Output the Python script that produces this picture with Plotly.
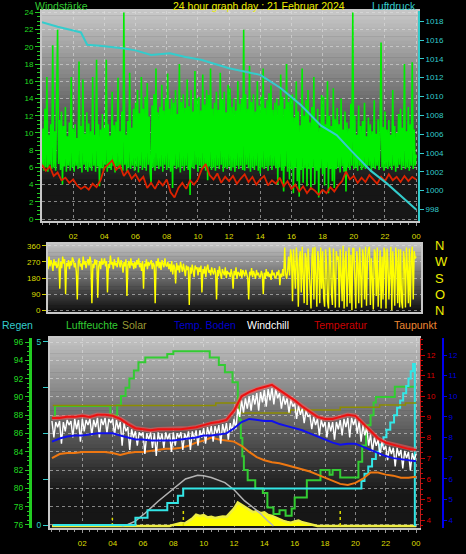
import plotly.graph_objects as go

W, H = 466, 554
FONT = "Liberation Sans, Arial, sans-serif"

# ---------------- data ----------------
hour_ticks = [2, 4, 6, 8, 10, 12, 14, 16, 18, 20, 22, 24]
hour_labels = ["02", "04", "06", "08", "10", "12", "14", "16", "18", "20", "22", "00"]

# Windstärke (gusts), one row per hour, 16 samples per hour
gust_step = 0.0625
gust = [
    6.2, 10.5, 5.6, 12.8, 6.0, 16.5, 5.5, 9.8, 6.3, 11.0, 5.8, 20.2, 6.0, 10.2, 5.6, 12.5,
    22.0, 6.4, 11.5, 5.7, 12.5, 4.0, 10.8, 6.1, 13.0, 5.5, 9.6, 6.2, 11.2, 5.6, 16.5, 6.0,
    10.5, 5.5, 11.0, 6.2, 9.4, 5.8, 18.3, 6.0, 10.8, 5.4, 16.2, 6.3, 9.9, 5.7, 12.4, 5.5,
    11.1, 6.0, 10.2, 5.6, 16.5, 6.2, 9.8, 5.5, 18.5, 6.1, 11.0, 3.8, 10.4, 5.9, 12.2, 5.6,
    10.6, 6.3, 18.5, 5.5, 11.0, 6.0, 9.7, 5.7, 14.8, 6.2, 10.9, 5.4, 11.3, 6.1, 16.4, 5.8,
    10.2, 6.2, 12.5, 5.6, 24.0, 6.3, 9.8, 5.5, 11.4, 6.0, 17.0, 5.8, 10.6, 6.2, 12.8, 5.6,
    13.5, 6.1, 15.0, 5.4, 12.3, 6.2, 16.5, 5.7, 12.8, 6.0, 14.2, 5.6, 15.8, 6.3, 11.9, 5.5,
    4.2, 13.2, 6.0, 14.5, 5.6, 17.5, 6.2, 12.4, 5.8, 13.0, 6.1, 15.6, 5.5, 12.6, 6.3, 14.0,
    5.7, 16.9, 6.0, 12.8, 5.5, 14.0, 3.6, 13.5, 6.2, 15.0, 5.8, 12.2, 6.0, 18.0, 5.4, 13.6,
    6.1, 14.5, 5.6, 12.9, 6.2, 16.2, 5.7, 13.1, 2.8, 15.0, 6.0, 12.5, 5.8, 17.2, 6.3, 14.0,
    5.5, 14.2, 6.2, 12.6, 5.8, 16.8, 6.0, 13.3, 5.6, 15.0, 4.5, 14.4, 6.1, 17.5, 5.7, 12.8,
    6.0, 13.5, 5.6, 14.8, 6.2, 12.7, 5.8, 17.0, 6.3, 13.9, 5.5, 14.8, 6.0, 12.4, 5.8, 15.6,
    6.1, 15.2, 5.6, 13.0, 6.0, 14.0, 5.5, 12.6, 6.2, 16.0, 5.8, 13.4, 6.2, 14.0, 5.7, 22.0,
    5.6, 14.5, 6.3, 12.8, 5.9, 17.8, 5.5, 13.6, 6.0, 14.5, 5.7, 12.5, 6.2, 16.0, 5.6, 13.2,
    5.3, 14.2, 6.0, 17.5, 5.8, 12.9, 6.1, 13.8, 5.6, 14.6, 6.2, 15.5, 5.7, 12.7, 6.2, 13.5,
    5.9, 14.0, 4.0, 13.2, 6.0, 16.8, 5.6, 14.2, 3.2, 12.8, 6.1, 18.0, 5.5, 13.6, 4.6, 14.4,
    5.8, 14.5, 3.0, 11.8, 6.0, 16.0, 4.4, 12.5, 2.6, 10.9, 5.7, 17.5, 4.2, 12.0, 5.9, 13.8,
    3.8, 15.0, 5.8, 11.2, 3.4, 13.0, 6.0, 16.5, 4.0, 11.5, 5.6, 12.8, 2.5, 10.6, 5.9, 14.4,
    5.2, 14.2, 3.9, 11.0, 6.0, 16.0, 3.0, 12.0, 5.8, 10.8, 4.4, 15.2, 3.6, 11.6, 5.8, 12.9,
    6.0, 11.0, 5.4, 14.0, 6.1, 10.4, 5.5, 12.5, 3.2, 11.2, 6.0, 10.5, 5.7, 13.4, 6.2, 24.0,
    5.8, 12.0, 6.0, 9.8, 5.6, 13.2, 6.2, 10.8, 5.7, 11.4, 6.0, 13.5, 5.8, 9.6, 6.2, 11.8,
    6.2, 11.0, 5.5, 10.2, 6.0, 13.8, 5.8, 9.9, 6.2, 11.6, 5.7, 9.5, 20.5, 6.0, 10.7, 5.6,
    12.5, 6.0, 10.4, 5.8, 11.5, 6.1, 9.8, 5.7, 15.0, 6.2, 10.8, 5.5, 10.0, 6.0, 12.2, 6.3,
    12.8, 5.7, 10.6, 6.1, 18.0, 5.8, 10.2, 6.0, 13.0, 5.6, 11.0, 6.2, 18.2, 5.8, 10.4, 6.2,
    7.5,
]

# mean wind, every 15 minutes
avg_step = 0.25
wind_avg = [
    6.3, 5.6, 6.1, 5.0, 5.4, 4.5, 4.8, 4.2, 4.6, 3.9, 3.5, 3.8,
    3.4, 4.1, 3.7, 4.5, 5.9, 6.4, 6.8, 5.7, 6.2, 5.0, 5.6, 4.7,
    5.2, 4.4, 4.9, 3.6, 4.2, 3.5, 4.4, 3.9, 4.6, 3.1, 2.5, 3.6,
    4.2, 3.5, 4.5, 4.0, 4.6, 5.8, 6.4, 5.1, 4.6, 5.3, 4.2, 4.9,
    4.4, 5.0, 4.1, 4.7, 5.2, 4.3, 4.9, 4.0, 4.6, 5.0, 3.9, 4.5,
    4.1, 4.8, 3.8, 4.4, 3.5, 4.0, 3.2, 3.8, 3.0, 3.6, 3.3, 2.8,
    3.4, 3.0, 3.7, 3.2, 3.9, 4.4, 5.5, 4.6, 5.0, 4.2, 4.8, 4.3,
    5.1, 4.6, 4.1, 4.9, 4.4, 5.2, 4.5, 4.9, 4.3, 5.0, 4.4, 4.9,
    4.6,
]

# Luftdruck (hPa)
pressure_t = [0.0, 1.0, 2.0, 2.5, 2.9, 3.7, 5.3, 6.0, 7.0, 8.2, 9.2, 10.2,
              12.0, 14.0, 15.3, 16.6, 17.9, 18.9, 19.8, 21.1, 22.1, 23.0, 24.0]
pressure = [1017.9, 1017.4, 1017.0, 1016.8, 1015.5, 1015.4, 1015.1, 1014.9,
            1014.4, 1014.6, 1014.2, 1013.9, 1013.0, 1012.3, 1010.9, 1009.1,
            1006.9, 1005.9, 1004.3, 1002.1, 1000.8, 999.5, 998.0]

# wind direction (degrees), one row per hour, 16 samples per hour
dir_step = 0.0625
direction = [
    240, 275, 225, 290, 250, 265, 230, 300, 245, 280, 260, 220, 285, 250, 270, 235,
    255, 290, 120, 270, 235, 300, 260, 285, 90, 265, 245, 280, 230, 275, 250, 295,
    280, 240, 265, 215, 60, 270, 290, 245, 260, 225, 300, 255, 275, 235, 265, 285,
    250, 300, 270, 40, 260, 235, 285, 255, 280, 70, 245, 275, 230, 290, 255, 265,
    290, 245, 275, 100, 260, 235, 305, 255, 270, 230, 285, 250, 265, 240, 295, 260,
    240, 280, 255, 210, 270, 245, 285, 80, 255, 275, 235, 290, 250, 265, 230, 270,
    235, 280, 255, 290, 240, 265, 220, 275, 120, 260, 245, 285, 230, 270, 250, 265,
    280, 230, 265, 250, 40, 275, 245, 290, 235, 270, 225, 280, 255, 240, 290, 250,
    245, 270, 230, 260, 215, 275, 200, 255, 240, 150, 265, 225, 250, 210, 270, 235,
    215, 260, 230, 190, 250, 225, 245, 30, 240, 205, 255, 220, 185, 250, 230, 240,
    195, 240, 215, 250, 100, 230, 205, 245, 185, 235, 255, 210, 225, 195, 240, 215,
    200, 235, 210, 60, 225, 190, 245, 205, 175, 230, 215, 195, 240, 180, 220, 205,
    210, 185, 230, 200, 120, 220, 195, 240, 175, 215, 205, 190, 230, 180, 225, 200,
    190, 225, 205, 180, 60, 215, 195, 235, 185, 220, 200, 175, 225, 195, 210, 185,
    185, 220, 200, 90, 210, 175, 230, 190, 215, 185, 205, 170, 225, 195, 210, 180,
    180, 215, 195, 225, 140, 205, 185, 230, 190, 350, 205, 175, 220, 300, 195, 340,
    300, 50, 340, 200, 120, 350, 260, 20, 280, 330, 100, 355, 230, 40, 320, 290,
    30, 345, 240, 80, 10, 300, 350, 60, 355, 200, 20, 330, 270, 40, 350, 120,
    330, 70, 20, 340, 260, 50, 10, 350, 300, 90, 30, 345, 220, 15, 330, 280,
    300, 15, 340, 230, 50, 360, 10, 280, 330, 20, 150, 350, 40, 310, 0, 345,
    345, 120, 10, 330, 260, 40, 350, 200, 15, 340, 300, 60, 355, 25, 290, 340,
    355, 30, 290, 180, 5, 340, 320, 80, 350, 20, 250, 335, 10, 300, 60, 350,
    320, 10, 345, 270, 60, 300, 355, 0, 330, 200, 25, 350, 290, 40, 340, 15,
    340, 50, 10, 330, 280, 15, 350, 240, 40, 345, 20, 300, 355, 60, 330, 290,
    300,
]

# Luftfeuchte (%), step line
hum_t = [0.05, 0.2, 3.85, 4.3, 4.55, 4.85, 5.1, 5.4, 5.7, 6.15,
         7.6, 8.0, 10.4, 11.0, 11.4, 11.9,
         12.25, 12.35, 12.45, 12.55, 12.65, 12.9,
         13.4, 13.9, 14.2, 14.6, 15.0, 15.4, 15.8, 16.0,
         16.8, 17.7, 18.3, 18.5, 19.0,
         20.2, 20.45, 20.7, 21.0, 21.2, 21.35,
         22.6, 24.0]
hum = [87.8, 89.0, 88.0, 89.1, 90.1, 91.0, 92.0, 92.9, 93.8, 94.3,
       94.7, 95.0, 94.3, 93.5, 92.7, 91.6,
       89.5, 87.5, 85.5, 83.5, 82.0, 80.9,
       80.0, 79.5, 77.9, 77.2, 77.6, 77.0, 77.8, 79.0,
       80.9, 82.0, 81.5, 82.0, 81.2,
       82.9, 84.7, 86.9, 88.0, 89.4, 90.0,
       91.1, 91.1]

# Regen (mm), step line
rain_t = [0.05, 5.5, 6.3, 7.6, 8.3, 8.65, 20.4, 20.6, 20.85, 21.1, 21.35, 21.6,
          21.85, 22.05, 22.3, 22.55, 22.75, 22.95, 23.15, 23.35, 23.5, 23.65,
          23.8, 23.92, 24.0]
rain = [0.0, 0.2, 0.4, 0.6, 0.8, 1.0, 1.2, 1.4, 1.6, 1.8, 2.0, 2.2,
        2.4, 2.6, 2.8, 3.0, 3.2, 3.4, 3.6, 3.8, 4.0, 4.2,
        4.4, 0.0, 0.0]

# temperatures (°C), every 30 minutes
temp_step = 0.5
temperature = [8.95, 8.95, 9.0, 9.0, 9.05, 9.0, 9.1, 9.1, 9.05, 8.9,
               8.65, 8.45, 8.4, 8.35, 8.4, 8.4, 8.4, 8.4, 8.45, 8.5,
               8.6, 8.7, 8.75, 8.85, 9.3, 10.0, 10.2, 10.35, 10.45, 10.55,
               10.3, 10.05, 9.8, 9.5, 9.25, 9.0, 8.9, 8.9, 9.0, 9.1,
               9.05, 8.7, 8.3, 7.95, 7.75, 7.65, 7.55, 7.45, 7.4]
soil_temp = [7.8, 7.95, 8.05, 8.1, 8.1, 8.15, 8.2, 8.2, 8.2, 8.1,
             8.0, 7.9, 7.9, 7.85, 7.85, 7.85, 7.85, 7.9, 7.95, 8.0,
             8.1, 8.1, 8.15, 8.2, 8.45, 8.75, 8.9, 8.85, 8.8, 8.8,
             8.65, 8.55, 8.45, 8.35, 8.2, 8.05, 7.9, 7.75, 7.65, 7.7,
             7.7, 7.55, 7.4, 7.25, 7.1, 7.0, 6.95, 6.9, 6.85]
dewpoint = [7.0, 7.2, 7.25, 7.25, 7.3, 7.3, 7.3, 7.3, 7.25, 7.15,
            7.25, 7.3, 7.3, 7.35, 7.4, 7.45, 7.45, 7.5, 7.6, 7.75,
            7.85, 8.0, 7.9, 7.85, 7.8, 7.6, 7.3, 7.05, 6.9, 6.8,
            6.75, 6.65, 6.55, 6.45, 6.35, 6.2, 6.05, 5.9, 5.75, 5.7,
            5.8, 6.0, 6.3, 6.3, 6.2, 6.15, 6.05, 6.05, 6.1]

# Windchill (°C), one row per hour, 8 samples per hour
chill_step = 0.125
windchill = [
    8.8, 8.0, 8.75, 8.5, 8.8, 7.7, 8.75, 8.3,
    8.85, 8.6, 8.8, 8.0, 8.9, 8.4, 8.85, 7.8,
    8.9, 8.3, 8.85, 8.6, 8.9, 8.1, 8.85, 8.5,
    8.95, 8.0, 8.9, 8.6, 8.95, 8.2, 8.9, 8.7,
    8.9, 8.1, 8.85, 8.4, 8.75, 7.6, 8.7, 8.3,
    8.5, 7.4, 8.4, 8.0, 8.3, 7.6, 8.25, 8.1,
    8.25, 7.2, 8.2, 7.9, 8.25, 7.5, 8.2, 7.1,
    8.25, 7.8, 8.2, 7.5, 8.25, 7.9, 8.2, 7.3,
    8.25, 7.6, 8.2, 8.0, 8.25, 7.4, 8.2, 7.9,
    8.3, 7.4, 8.3, 7.9, 8.35, 7.6, 8.35, 8.0,
    8.45, 7.7, 8.5, 8.1, 8.55, 7.8, 8.55, 8.2,
    8.6, 7.7, 8.65, 8.2, 8.7, 7.9, 8.7, 8.3,
    8.9, 8.4, 9.4, 9.0, 9.8, 9.2, 9.9, 9.4,
    10.0, 9.3, 10.05, 9.6, 10.15, 9.3, 10.2, 9.7,
    10.3, 9.5, 10.35, 9.8, 10.4, 9.6, 10.35, 9.9,
    10.15, 9.4, 10.0, 9.6, 9.9, 9.2, 9.85, 9.5,
    9.65, 8.9, 9.55, 9.1, 9.4, 8.7, 9.3, 9.0,
    9.1, 8.4, 9.0, 8.6, 8.9, 8.1, 8.85, 8.5,
    8.75, 8.0, 8.75, 8.3, 8.75, 7.9, 8.75, 8.4,
    8.85, 8.1, 8.9, 8.5, 8.95, 8.0, 8.95, 8.6,
    8.9, 8.2, 8.8, 7.8, 8.6, 8.1, 8.5, 7.6,
    8.15, 7.3, 8.0, 7.6, 7.9, 7.1, 7.8, 7.4,
    7.6, 6.9, 7.55, 7.2, 7.5, 6.6, 7.5, 7.1,
    7.4, 6.5, 7.35, 7.0, 7.3, 6.4, 7.25, 6.9,
    7.2,
]

# olive line (step)
olive_t = [0.05, 10.8, 12.3, 15.7, 19.0, 21.6, 23.3, 24.0]
olive = [9.55, 9.67, 9.19, 9.33, 9.47, 9.58, 9.67, 9.67]

# theoretical solar curve (grey) and measured solar (yellow), W/m²
sun_t = [4.6, 5.0, 5.5, 6.15, 7.0, 7.95, 8.8, 9.6, 10.0, 10.5, 11.0, 11.4,
         12.0, 12.4, 12.7, 13.2, 13.7, 14.2, 14.6]
sun = [0, 8, 27, 71, 135, 202, 257, 277, 274, 265, 250, 237,
       198, 164, 137, 105, 71, 30, 0]
solar_step = 0.25
solar = ([0] * 32 +
         [6, 10, 16, 14, 28, 40, 62, 55, 60, 47,
          50, 44, 48, 52, 50, 70, 95, 128, 115, 105,
          88, 76, 82, 70, 75, 60, 55, 45, 35, 28,
          22, 18, 25, 30, 20, 14, 8, 4] +
         [0] * 27)

# small yellow dotted markers near the baseline (time, height in W/m²)
marker_t = [3.98, 8.66, 19.0]
marker_h = [45, 85, 85]


def times(step, n):
    return [i * step for i in range(n)]


# ---------------- figure ----------------
fig = go.Figure()

# panel 1: wind + pressure
fig.add_trace(go.Scatter(x=times(gust_step, len(gust)), y=gust, xaxis="x", yaxis="y",
                         mode="lines", line=dict(color="#00ee00", width=1.6)))
fig.add_trace(go.Scatter(x=times(avg_step, len(wind_avg)), y=wind_avg, xaxis="x", yaxis="y",
                         mode="lines", line=dict(color="#dd2200", width=1.8)))
fig.add_trace(go.Scatter(x=pressure_t, y=pressure, xaxis="x", yaxis="y2",
                         mode="lines", line=dict(color="#33cccc", width=2)))

# panel 2: wind direction
fig.add_trace(go.Scatter(x=times(dir_step, len(direction)), y=direction, xaxis="x2", yaxis="y3",
                         mode="lines", line=dict(color="#ffff00", width=1.4)))
fig.add_trace(go.Scatter(x=[None], y=[None], xaxis="x2", yaxis="y4", mode="lines",
                         hoverinfo="skip"))

# panel 3
fig.add_trace(go.Scatter(x=times(solar_step, len(solar)), y=solar, xaxis="x3", yaxis="y5",
                         mode="lines", fill="tozeroy", fillcolor="#ffff00",
                         line=dict(color="#eeee44", width=2.5)))
mk_x, mk_y = [], []
for t, h in zip(marker_t, marker_h):
    mk_x += [t, t, None]
    mk_y += [0, h, None]
fig.add_trace(go.Scatter(x=mk_x, y=mk_y, xaxis="x3", yaxis="y5", mode="lines",
                         line=dict(color="#dddd00", width=1.5, dash="dot")))
fig.add_trace(go.Scatter(x=sun_t, y=sun, xaxis="x3", yaxis="y5", mode="lines",
                         line=dict(color="#b4b4b4", width=1.5)))
fig.add_trace(go.Scatter(x=hum_t, y=hum, xaxis="x3", yaxis="y6", mode="lines",
                         line=dict(color="#33cc33", width=2, shape="hv")))
fig.add_trace(go.Scatter(x=rain_t, y=rain, xaxis="x3", yaxis="y7", mode="lines",
                         line=dict(color="#33e6e6", width=2, shape="hv")))
fig.add_trace(go.Scatter(x=olive_t, y=olive, xaxis="x3", yaxis="y8", mode="lines",
                         line=dict(color="#8c8c00", width=1.5, shape="hv")))
fig.add_trace(go.Scatter(x=times(temp_step, len(dewpoint)), y=dewpoint, xaxis="x3", yaxis="y8",
                         mode="lines", line=dict(color="#ee7711", width=2)))
fig.add_trace(go.Scatter(x=times(chill_step, len(windchill)), y=windchill, xaxis="x3", yaxis="y8",
                         mode="lines", line=dict(color="#ffffff", width=1.4)))
fig.add_trace(go.Scatter(x=times(temp_step, len(temperature)), y=temperature, xaxis="x3", yaxis="y8",
                         mode="lines", line=dict(color="rgba(255,90,90,0.55)", width=4.5)))
fig.add_trace(go.Scatter(x=times(temp_step, len(temperature)), y=temperature, xaxis="x3", yaxis="y8",
                         mode="lines", line=dict(color="#ee1111", width=2)))
fig.add_trace(go.Scatter(x=times(temp_step, len(soil_temp)), y=soil_temp, xaxis="x3", yaxis="y9",
                         mode="lines", line=dict(color="#1010ee", width=2)))

# ---------------- background gradients ----------------
shapes = []


def gradient(x0, x1, ytop, ybot, ctop, cbot, knee, n=50):
    for i in range(n):
        t = (i + 0.5) / n
        f = min(1.0, t / knee)
        c = int(round(ctop + (cbot - ctop) * f))
        ya = ytop + (ybot - ytop) * i / n
        yb = ytop + (ybot - ytop) * (i + 1) / n + 0.6
        shapes.append(dict(type="rect", xref="paper", yref="paper",
                           x0=x0 / W, x1=x1 / W, y0=1 - yb / H, y1=1 - ya / H,
                           fillcolor=f"rgb({c},{c},{c})", line=dict(width=0),
                           layer="below"))


gradient(42, 418, 11, 221, 200, 22, 0.82)
gradient(48, 421, 244, 312, 195, 14, 1.0)
gradient(50, 420, 338, 528, 195, 22, 0.82)

GRID = "rgba(225,225,225,0.55)"
BORDER = "#c8c8c8"
YEL = "#dddd00"
minor_x = dict(ticks="outside", ticklen=2, tickcolor="#999999", tickmode="linear",
               tick0=0, dtick=0.5, showgrid=False)


def ann(text, xpx, ypx, color, size=10.5):
    return dict(text=text, x=xpx / W, y=1 - ypx / H, xref="paper", yref="paper",
                xanchor="left", yanchor="middle", showarrow=False,
                font=dict(color=color, size=size, family=FONT))


annotations = [
    ann("Windstärke", 33, 6, "#33cc33"),
    ann("24 hour graph day : 21 Februar 2024", 171, 6, "#eeee00"),
    ann("Luftdruck", 370, 6, "#33cccc"),
    ann("Regen", 0, 325, "#33cccc"),
    ann("Luftfeuchte", 64, 325, "#33cc33"),
    ann("Solar", 120, 325, "#999933"),
    ann("Temp. Boden", 172, 325, "#0000cc"),
    ann("Windchill", 245, 325, "#ffffff"),
    ann("Temperatur", 312, 325, "#cc0000"),
    ann("Taupunkt", 392, 325, "#ee8833"),
]

fig.update_layout(
    width=W, height=H, autosize=False,
    margin=dict(l=0, r=0, t=0, b=0, autoexpand=False),
    paper_bgcolor="black", plot_bgcolor="rgba(0,0,0,0)",
    showlegend=False, font=dict(family=FONT), hovermode=False,
    shapes=shapes, annotations=annotations,
    # panel 1
    xaxis=dict(domain=[42 / W, 418 / W], range=[0, 24.12], anchor="y",
               tickmode="array", tickvals=hour_ticks, ticktext=hour_labels,
               tickfont=dict(color=YEL, size=8), ticks="outside", ticklen=3,
               tickcolor="#999999", ticklabelstandoff=3,
               showgrid=True, gridcolor=GRID, griddash="dot", gridwidth=1,
               showline=True, linecolor=BORDER, linewidth=2, mirror=True,
               zeroline=False, minor=minor_x),
    yaxis=dict(domain=[1 - 221 / H, 1 - 11 / H], range=[-0.232, 24.17], anchor="x",
               tickmode="array", tickvals=list(range(0, 25, 2)),
               tickfont=dict(color="#22dd22", size=8), ticks="outside", ticklen=5,
               tickcolor="#22cc22", showgrid=True, gridcolor=GRID, griddash="dot",
               showline=True, linecolor=BORDER, linewidth=2, mirror=True,
               zeroline=False,
               minor=dict(ticks="outside", ticklen=3, tickcolor="#22cc22",
                          tickmode="linear", tick0=0, dtick=0.5, showgrid=False)),
    yaxis2=dict(overlaying="y", side="right", anchor="x", range=[996.78, 1019.08],
                tickmode="array", tickvals=list(range(998, 1019, 2)),
                tickfont=dict(color="#33cccc", size=8), ticks="outside", ticklen=4,
                tickcolor="#33cccc", showline=True, linecolor="#33cccc", linewidth=2,
                showgrid=False, zeroline=False),
    # panel 2
    xaxis2=dict(domain=[48 / W, 421 / W], range=[0.37, 24.31], anchor="y3",
                showticklabels=False, ticks="", showgrid=False,
                showline=True, linecolor=BORDER, linewidth=2, mirror=True,
                zeroline=False),
    yaxis3=dict(domain=[1 - 312 / H, 1 - 244 / H], range=[-9.5, 370], anchor="x2",
                tickmode="array", tickvals=[0, 90, 180, 270, 360],
                tickfont=dict(color=YEL, size=8), ticks="outside", ticklen=4,
                tickcolor="#cccc00", showgrid=True, gridcolor=GRID, griddash="dot",
                showline=True, linecolor=BORDER, linewidth=2, mirror=True,
                zeroline=False),
    yaxis4=dict(overlaying="y3", anchor="free", position=434 / W, side="right",
                range=[-9.5, 370], tickmode="array", tickvals=[0, 90, 180, 270, 360],
                ticktext=["N", "O", "S", "W", "N"],
                tickfont=dict(color="#eeee00", size=13), ticks="",
                showline=False, showgrid=False, zeroline=False),
    # panel 3
    xaxis3=dict(domain=[50 / W, 420 / W], range=[-0.13, 24.26], anchor="y5",
                tickmode="array", tickvals=hour_ticks, ticktext=hour_labels,
                tickfont=dict(color=YEL, size=8), ticks="outside", ticklen=3,
                tickcolor="#999999", ticklabelstandoff=3,
                showgrid=True, gridcolor=GRID, griddash="dot", gridwidth=1,
                showline=True, linecolor=BORDER, linewidth=2, mirror=True,
                zeroline=False, minor=minor_x),
    yaxis5=dict(domain=[1 - 528 / H, 1 - 338 / H], range=[-10.93, 1027.3],
                anchor="x3", visible=False, showgrid=False, zeroline=False),
    yaxis6=dict(overlaying="y5", anchor="free", position=30 / W, side="left",
                range=[75.67, 96.44], tickmode="array", tickvals=list(range(76, 97, 2)),
                tickfont=dict(color="#22dd22", size=8.5), ticks="outside", ticklen=4,
                tickcolor="#22cc22", showline=True, linecolor="#22cc22", linewidth=3,
                showgrid=True, gridcolor=GRID, griddash="dot", zeroline=False,
                minor=dict(ticks="outside", ticklen=2, tickcolor="#22cc22",
                           tickmode="linear", tick0=76, dtick=0.5, showgrid=False)),
    yaxis7=dict(overlaying="y5", anchor="x3", side="left", range=[-0.082, 5.109],
                tickmode="array", tickvals=[0, 1.25, 2.5, 3.75, 5],
                ticktext=["0", "", "", "", "5"],
                tickfont=dict(color="#33cccc", size=8.5), ticks="outside", ticklen=5,
                tickcolor="#33cccc", showline=True, linecolor=BORDER, linewidth=2,
                showgrid=False, zeroline=False),
    yaxis8=dict(overlaying="y5", anchor="x3", side="right", range=[3.612, 12.824],
                tickmode="array", tickvals=list(range(4, 13)),
                tickfont=dict(color="#dd0000", size=8), ticks="outside", ticklen=4,
                tickcolor="#cc0000", showline=True, linecolor="#bb2222", linewidth=1,
                showgrid=False, zeroline=False,
                minor=dict(ticks="outside", ticklen=2, tickcolor="#cc0000",
                           tickmode="linear", tick0=4, dtick=0.25, showgrid=False)),
    yaxis9=dict(overlaying="y5", anchor="free", position=443 / W, side="right",
                range=[3.612, 12.824], tickmode="array", tickvals=list(range(4, 13)),
                tickfont=dict(color="#0000dd", size=8), ticks="outside", ticklen=3,
                tickcolor="#0000ee", showline=True, linecolor="#0000ee", linewidth=2,
                showgrid=False, zeroline=False),
)

fig.write_html("out.html",
               config={"displayModeBar": False, "staticPlot": True},
               post_script="document.body.style.margin='0px';"
                           "document.body.style.overflow='hidden';")
